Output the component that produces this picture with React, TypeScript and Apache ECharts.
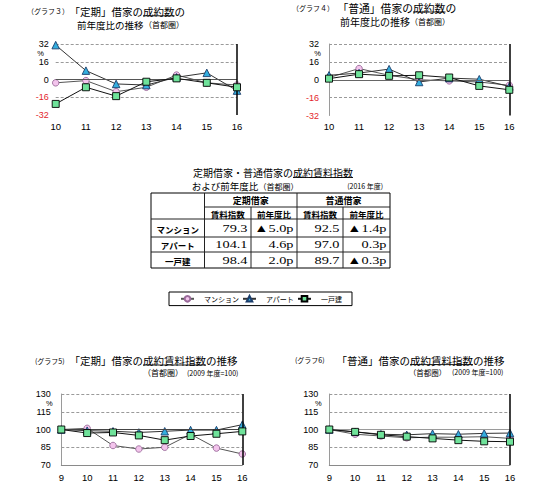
import React, { useEffect, useRef } from "react";
import * as echarts from "echarts";

// ---------- data ----------
const years10to16 = ["10", "11", "12", "13", "14", "15", "16"];
const years9to16 = ["9", "10", "11", "12", "13", "14", "15", "16"];
const seriesNames = ["マンション", "アパート", "一戸建"];

// グラフ3 「定期」借家の成約数 前年度比 (%)
const teikiCountMansion = [-3, -1, -11, -7, 4, -3, -5];
const teikiCountApart = [31, 8, -4, -5, 2, 6, -10];
const teikiCountHouse = [-22, -7, -15, -2, 1, -3, -7];

// グラフ4 「普通」借家の成約数 前年度比 (%)
const futsuCountMansion = [2, 10, 4, 0, -1, -2, -5];
const futsuCountApart = [4, 6, 9.5, -2, 1.5, 0.5, -6];
const futsuCountHouse = [1, 5, 3.5, 4, 2, -5.5, -9];

// グラフ5 「定期」借家の成約賃料指数 (2009=100)
const teikiRentMansion = [100, 101, 86.5, 83.5, 85, 96, 84.3, 79.3];
const teikiRentApart = [100, 99, 98.5, 97.5, 98.5, 99.5, 99.5, 104.1];
const teikiRentHouse = [100, 97, 97.5, 95, 91, 94.5, 96.4, 98.4];

// グラフ6 「普通」借家の成約賃料指数 (2009=100)
const futsuRentMansion = [100, 96, 94.5, 93, 93.5, 93.5, 93.9, 92.5];
const futsuRentApart = [100, 98, 96, 95.5, 96.5, 96, 96.7, 97.0];
const futsuRentHouse = [100, 98, 95.5, 94, 92.5, 91, 90.0, 89.7];

// table (2016年度)
const tableRowLabels = ["マンション", "アパート", "一戸建"];
const tableGroupLabels = ["定期借家", "普通借家"];
const tableColLabels = ["賃料指数", "前年度比"];
const teikiIndex2016 = [79.3, 104.1, 98.4];
const teikiChange2016 = [-5.0, 4.6, 2.0];
const futsuIndex2016 = [92.5, 97.0, 89.7];
const futsuChange2016 = [-1.4, 0.3, -0.3];

// axis ticks
const countAxis = { min: -32, max: 32, interval: 16 };
const rentAxis = { min: 70, max: 130, interval: 15 };
const RENT_BASE = 70; // axis shifted so that min is a multiple of the interval

// ---------- styles ----------
const JP = '"Noto Sans CJK JP", sans-serif';
const SANS = '"Liberation Sans", Arial, sans-serif';
const SERIF = '"Liberation Serif", "Times New Roman", serif';

const MARK: Record<string, any> = {
  "マンション": { symbol: "circle", size: 6.5, fill: "#f3c4ec", border: "#9b6b9b", line: "#555" },
  "アパート": { symbol: "triangle", size: 7.5, fill: "#33aede", border: "#1b3d6b", line: "#333" },
  "一戸建": { symbol: "rect", size: 7, fill: "#6fe29a", border: "#000", line: "#111" },
};

const GRIDS = [
  { left: 55.7, top: 44, width: 181.3, height: 71 },
  { left: 329, top: 44, width: 180.3, height: 71.5 },
  { left: 61.3, top: 394, width: 181, height: 71 },
  { left: 329.3, top: 394, width: 180.7, height: 71 },
];

function fmtChange(v: number) {
  return (v < 0 ? "▲" + Math.abs(v).toFixed(1) : v.toFixed(1)) + "p";
}

function buildOption() {
  const gridLine = { type: [3, 2], color: "#808080", width: 0.8 };

  const xAxis = GRIDS.map((_, i) => ({
    type: "category",
    gridIndex: i,
    data: i < 2 ? years10to16 : years9to16,
    boundaryGap: false,
    axisTick: { show: false },
    axisLine: { show: i >= 2, onZero: false, lineStyle: { color: "#8a8a8a", width: 1 } },
    axisLabel: { interval: 0, fontSize: 9.5, color: "#000", margin: i < 2 ? 6 : 7, fontFamily: SANS },
    splitLine: { show: false },
  }));

  const labelMargins = [7, 10, 10.5, 11];
  const yAxis = GRIDS.map((_, i) => {
    const isCount = i < 2;
    const ax = isCount ? countAxis : rentAxis;
    const base = isCount ? 0 : RENT_BASE;
    return {
      type: "value",
      gridIndex: i,
      min: ax.min - base,
      max: ax.max - base,
      interval: ax.interval,
      axisLine: { show: i !== 0, lineStyle: { color: "#9a9a9a", width: 1 } },
      axisTick: { show: false },
      axisLabel: {
        fontSize: 9,
        fontFamily: SANS,
        margin: labelMargins[i],
        formatter: (v: number) => String(Math.round(v + base)),
        color: (v: any) => (Number(v) + base < 0 ? "#e3262b" : "#000"),
      },
      splitLine: { show: true, showMinLine: false, lineStyle: gridLine },
    };
  });

  const groups = [
    { data: [teikiCountMansion, teikiCountApart, teikiCountHouse], base: 0, ref: 0, refColor: "#555" },
    { data: [futsuCountMansion, futsuCountApart, futsuCountHouse], base: 0, ref: 0, refColor: "#666" },
    { data: [teikiRentMansion, teikiRentApart, teikiRentHouse], base: RENT_BASE, ref: 100, refColor: "#444" },
    { data: [futsuRentMansion, futsuRentApart, futsuRentHouse], base: RENT_BASE, ref: 100, refColor: "#9a9a9a" },
  ];

  const series: any[] = [];
  groups.forEach((g, gi) => {
    const cats = gi < 2 ? years10to16 : years9to16;
    seriesNames.forEach((name, k) => {
      const m = MARK[name];
      const s: any = {
        type: "line",
        name,
        xAxisIndex: gi,
        yAxisIndex: gi,
        data: g.data[k].map((v) => +(v - g.base).toFixed(3)),
        symbol: m.symbol,
        symbolSize: m.size,
        showSymbol: true,
        showAllSymbol: true,
        itemStyle: { color: m.fill, borderColor: m.border, borderWidth: 0.9 },
        lineStyle: { color: m.line, width: 1 },
        z: 3 + k,
        silent: true,
        emphasis: { disabled: true },
      };
      if (k === 0) {
        s.markLine = {
          silent: true,
          symbol: ["none", "none"],
          label: { show: false },
          animation: false,
          data: [
            { yAxis: g.ref - g.base, lineStyle: { color: g.refColor, width: 1, type: "solid" } },
            { xAxis: cats[cats.length - 1], lineStyle: { color: "#000", width: 1.5, type: "solid" } },
          ],
        };
      }
      series.push(s);
    });
  });

  // ---------- graphic texts ----------
  const g: any[] = [];
  const txt = (text: string, x: number, y: number, size: number, o: any = {}) => {
    const align = o.align || "left";
    g.push({
      type: "text",
      x,
      y,
      scaleX: o.sx || 1,
      silent: true,
      z: 10,
      style: {
        text,
        x: 0,
        y: 0,
        font: `${o.bold ? "bold " : ""}${size}px ${o.family || JP}`,
        fill: o.color || "#000",
        align,
        verticalAlign: "middle",
        textAlign: align,
        textVerticalAlign: "middle",
      },
    });
  };
  const line = (x1: number, y1: number, x2: number, y2: number, color = "#000", w = 1) => {
    g.push({ type: "line", silent: true, z: 10, shape: { x1, y1, x2, y2 }, style: { stroke: color, lineWidth: w } });
  };

  // グラフ3
  txt("（グラフ３）", 27, 11.3, 7);
  txt("「定期」借家の", 143, 11.3, 10.5, { align: "right" });
  txt("成約数", 143, 11.3, 10.5);
  txt("の", 174.5, 11.3, 10.5);
  line(143, 15.8, 174.5, 15.8, "#000", 0.9);
  txt("前年度比の推移", 77, 24.6, 9.5);
  txt("（首都圏）", 144, 24.6, 8);
  txt("%", 37.3, 53, 7.5, { family: SANS });

  // グラフ4
  txt("（グラフ４）", 292, 7.5, 7);
  txt("「普通」借家の", 413, 7.5, 10.8, { align: "right" });
  txt("成約数", 413, 7.5, 10.8);
  txt("の", 445.5, 7.5, 10.8);
  line(413, 12, 445.5, 12, "#000", 0.9);
  txt("前年度比の推移", 340, 21.7, 10);
  txt("（首都圏）", 410, 21.7, 8);
  txt("%", 314.3, 53, 7.5, { family: SANS });

  // グラフ5
  txt("(グラフ5)", 35, 360.7, 7);
  txt("「定期」借家の", 143, 360.7, 10.5, { align: "right" });
  txt("成約賃料指数", 143, 360.7, 10.5);
  txt("の推移", 206, 360.7, 10.5);
  line(143, 365, 206, 365, "#000", 0.9);
  txt("（首都圏）", 143, 372.5, 8);
  txt("(2009 年度=100)", 187, 372.5, 7);
  txt("%", 46, 403, 7.5, { family: SANS });

  // グラフ6
  txt("(グラフ6)", 295, 360.3, 7);
  txt("「普通」借家の", 410, 360.3, 10.5, { align: "right" });
  txt("成約賃料指数", 410, 360.3, 10.5);
  txt("の推移", 473, 360.3, 10.5);
  line(410, 364.6, 473, 364.6, "#000", 0.9);
  txt("（首都圏）", 408.7, 372.3, 7.5);
  txt("(2009 年度=100)", 452, 372.3, 7);
  txt("%", 315, 403, 7.5, { family: SANS });

  // table title
  txt("定期借家・普通借家の", 293, 172.5, 10, { align: "right" });
  txt("成約賃料指数", 293, 172.5, 10);
  line(293, 177.5, 353, 177.5, "#000", 0.9);
  txt("および前年度比", 191.7, 186, 9.5);
  txt("（首都圏）", 258.5, 186, 8);
  txt("(2016 年度)", 383, 186, 7, { align: "right" });

  // table frame
  const TX = [151, 204.5, 251, 297, 343, 390];
  const TY = [193, 207, 219, 237, 252, 268];
  g.push({
    type: "rect",
    silent: true,
    z: 10,
    shape: { x: TX[0], y: TY[0], width: TX[5] - TX[0], height: TY[5] - TY[0] },
    style: { fill: "none", stroke: "#000", lineWidth: 1 },
  });
  line(TX[1], TY[0], TX[1], TY[5], "#222");
  line(TX[3], TY[0], TX[3], TY[5], "#222");
  line(TX[2], TY[1], TX[2], TY[5], "#222");
  line(TX[4], TY[1], TX[4], TY[5], "#222");
  line(TX[1], TY[1], TX[5], TY[1], "#222");
  for (let r = 2; r <= 4; r++) line(TX[0], TY[r], TX[5], TY[r], "#222");

  // table headers
  tableGroupLabels.forEach((lab, i) => {
    const x0 = TX[1 + i * 2], x1 = TX[3 + i * 2];
    txt(lab, (x0 + x1) / 2, (TY[0] + TY[1]) / 2 + 0.5, 9, { align: "center", bold: true });
    tableColLabels.forEach((c, j) => {
      const a = TX[1 + i * 2 + j], b = TX[2 + i * 2 + j];
      txt(c, (a + b) / 2, (TY[1] + TY[2]) / 2 + 0.5, 8.5, { align: "center", bold: true });
    });
  });

  // table rows
  const cols = [
    teikiIndex2016.map((v) => v.toFixed(1)),
    teikiChange2016.map(fmtChange),
    futsuIndex2016.map((v) => v.toFixed(1)),
    futsuChange2016.map(fmtChange),
  ];
  tableRowLabels.forEach((lab, r) => {
    const cy = (TY[2 + r] + TY[3 + r]) / 2 + 0.5;
    txt(lab, (TX[0] + TX[1]) / 2, cy, 8.5, { align: "center", bold: true });
    cols.forEach((col, c) => {
      txt(col[r], TX[2 + c] - 3.5, cy, 11, { align: "right", family: SERIF, sx: 1.3 });
    });
  });

  return {
    animation: false,
    backgroundColor: "#fff",
    grid: GRIDS.map((gr) => ({ ...gr, containLabel: false })),
    xAxis,
    yAxis,
    series,
    legend: {
      left: 169,
      top: 292,
      orient: "horizontal",
      padding: [3, 10, 3, 11],
      itemGap: 3,
      itemWidth: 13,
      itemHeight: 7,
      borderColor: "#000",
      borderWidth: 1,
      selectedMode: false,
      textStyle: { fontSize: 7, fontFamily: JP, color: "#000", padding: [0, 0, 0, 5] },
      data: [
        { name: seriesNames[0], textStyle: { width: 30 } },
        { name: seriesNames[1], textStyle: { width: 45 } },
        { name: seriesNames[2], textStyle: { width: 22 } },
      ],
    },
    graphic: { elements: g },
  };
}

export default function App() {
  const ref = useRef<HTMLDivElement>(null);
  useEffect(() => {
    if (!ref.current) return;
    const chart = echarts.init(ref.current, undefined, { renderer: "svg" });
    chart.setOption(buildOption() as any);
    return () => chart.dispose();
  }, []);
  return (
    <div
      ref={ref}
      style={{ position: "fixed", left: 0, top: 0, width: 544, height: 489, background: "#fff" }}
    />
  );
}
